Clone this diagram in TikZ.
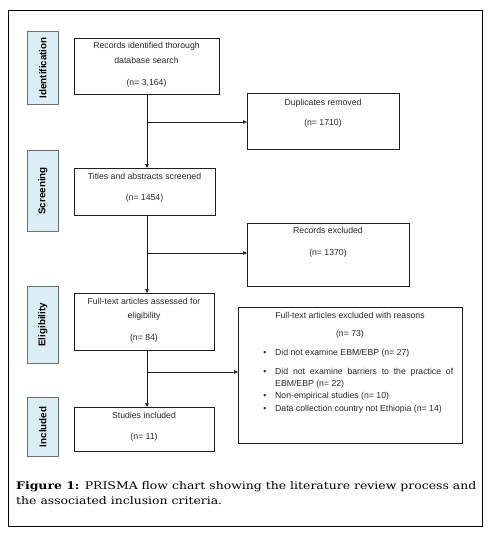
\documentclass[tikz,border=0pt]{standalone}
\usepackage{fontspec}
\setmainfont{Liberation Sans}
\newfontfamily\capfont[FakeStretch=1.185]{DejaVu Serif}
\usetikzlibrary{arrows.meta}
\definecolor{sidefill}{RGB}{219,238,243}
\definecolor{sideline}{RGB}{110,110,110}
\definecolor{boxline}{RGB}{30,30,30}
\definecolor{txtcol}{RGB}{40,40,40}
\begin{document}
\begin{tikzpicture}[x=1pt,y=-1pt,
  box/.style={draw=boxline,line width=0.8pt,inner sep=0pt,anchor=north west},
  side/.style={draw=sideline,fill=sidefill,line width=0.8pt,inner sep=0pt,anchor=north west},
  txt/.style={font=\fontsize{8.7}{10}\selectfont,text=txtcol,inner sep=0pt,anchor=mid},
  lab/.style={font=\fontsize{9.8}{11}\selectfont\bfseries,rotate=90,inner sep=0pt},
  arr/.style={draw=boxline,line width=0.6pt,-{Triangle[length=4pt,width=3.5pt]}},
  captxt/.style={font=\capfont\fontsize{10.5}{12}\selectfont,inner sep=0pt,anchor=base west}]
\useasboundingbox (0,0) rectangle (492,533);
% outer frame
\node[draw=black,line width=1pt,inner sep=0pt,anchor=north west,minimum width=474pt,minimum height=516pt] (frame) at (8,10) {};
% side labels
\node[side,minimum width=31pt,minimum height=73pt] (sI) at (27,31) {};
\node[lab] (lI) at (sI.center) {Identification};
\node[side,minimum width=31pt,minimum height=81pt] (sS) at (27,150) {};
\node[lab] (lS) at (sS.center) {Screening};
\node[side,minimum width=31pt,minimum height=77pt] (sE) at (27,286) {};
\node[lab] (lE) at (sE.center) {Eligibility};
\node[side,minimum width=31pt,minimum height=59pt] (sN) at (27,397) {};
\node[lab] (lN) at (sN.center) {Included};
% main boxes
\node[box,minimum width=145pt,minimum height=56pt] (rec) at (74,38) {};
\node[txt] (rec1) at (146.5,46) {Records identified thorough};
\node[txt] (rec2) at (146.5,61) {database search};
\node[txt] (rec3) at (146.5,83) {(n= 3,164)};
\node[box,minimum width=141pt,minimum height=47pt] (tit) at (74,168) {};
\node[txt] (tit1) at (144.5,177) {Titles and abstracts screened};
\node[txt] (tit2) at (144.5,198) {(n= 1454)};
\node[box,minimum width=140pt,minimum height=57pt] (ful) at (74,293) {};
\node[txt] (ful1) at (144,302) {Full-text articles assessed for};
\node[txt] (ful2) at (144,316) {eligibility};
\node[txt] (ful3) at (144,338) {(n= 84)};
\node[box,minimum width=140pt,minimum height=44pt] (stu) at (74,407) {};
\node[txt] (stu1) at (144,416) {Studies included};
\node[txt] (stu2) at (144,437) {(n= 11)};
% right boxes
\node[box,minimum width=152pt,minimum height=56pt] (dup) at (247,93) {};
\node[txt] (dup1) at (323,103) {Duplicates removed};
\node[txt] (dup2) at (323,123) {(n= 1710)};
\node[box,minimum width=162pt,minimum height=63pt] (rex) at (247,223) {};
\node[txt] (rex1) at (328,231) {Records excluded};
\node[txt] (rex2) at (328,253) {(n= 1370)};
\node[box,minimum width=224pt,minimum height=136pt] (fex) at (238,307) {};
\node[txt] (fex1) at (350,316) {Full-text articles excluded with reasons};
\node[txt] (fex2) at (350,334) {(n= 73)};
\node[txt] (b1) at (265,353) {\textbullet};
\node[txt,anchor=mid west] (fexa) at (275,353) {Did not examine EBM/EBP (n= 27)};
\node[txt] (b2) at (265,372) {\textbullet};
\node[txt,anchor=mid west] (fexb) at (275,372) {\makebox[178pt][s]{Did not examine barriers to the practice of}};
\node[txt,anchor=mid west] (fexc) at (275,384) {EBM/EBP (n= 22)};
\node[txt] (b3) at (265,396) {\textbullet};
\node[txt,anchor=mid west] (fexd) at (275,396) {Non-empirical studies (n= 10)};
\node[txt] (b4) at (265,409) {\textbullet};
\node[txt,anchor=mid west] (fexe) at (275,409) {Data collection country not Ethiopia (n= 14)};
% connectors
\coordinate (j1) at (147,122);
\coordinate (j2) at (147,253);
\coordinate (j3) at (147,372);
\draw[arr] (rec.south -| j1) -- (tit.north -| j1);
\draw[arr] (j1) -- (j1 -| dup.west);
\draw[arr] (tit.south -| j1) -- (ful.north -| j1);
\draw[arr] (j2) -- (j2 -| rex.west);
\draw[arr] (ful.south -| j1) -- (stu.north -| j1);
\draw[arr] (j3) -- (j3 -| fex.west);
% caption
\node[captxt] (cap1) at (16,489) {\textbf{Figure 1:} PRISMA flow chart showing the literature review process and};
\node[captxt] (cap2) at (16,504) {the associated inclusion criteria.};
\end{tikzpicture}
\end{document}
